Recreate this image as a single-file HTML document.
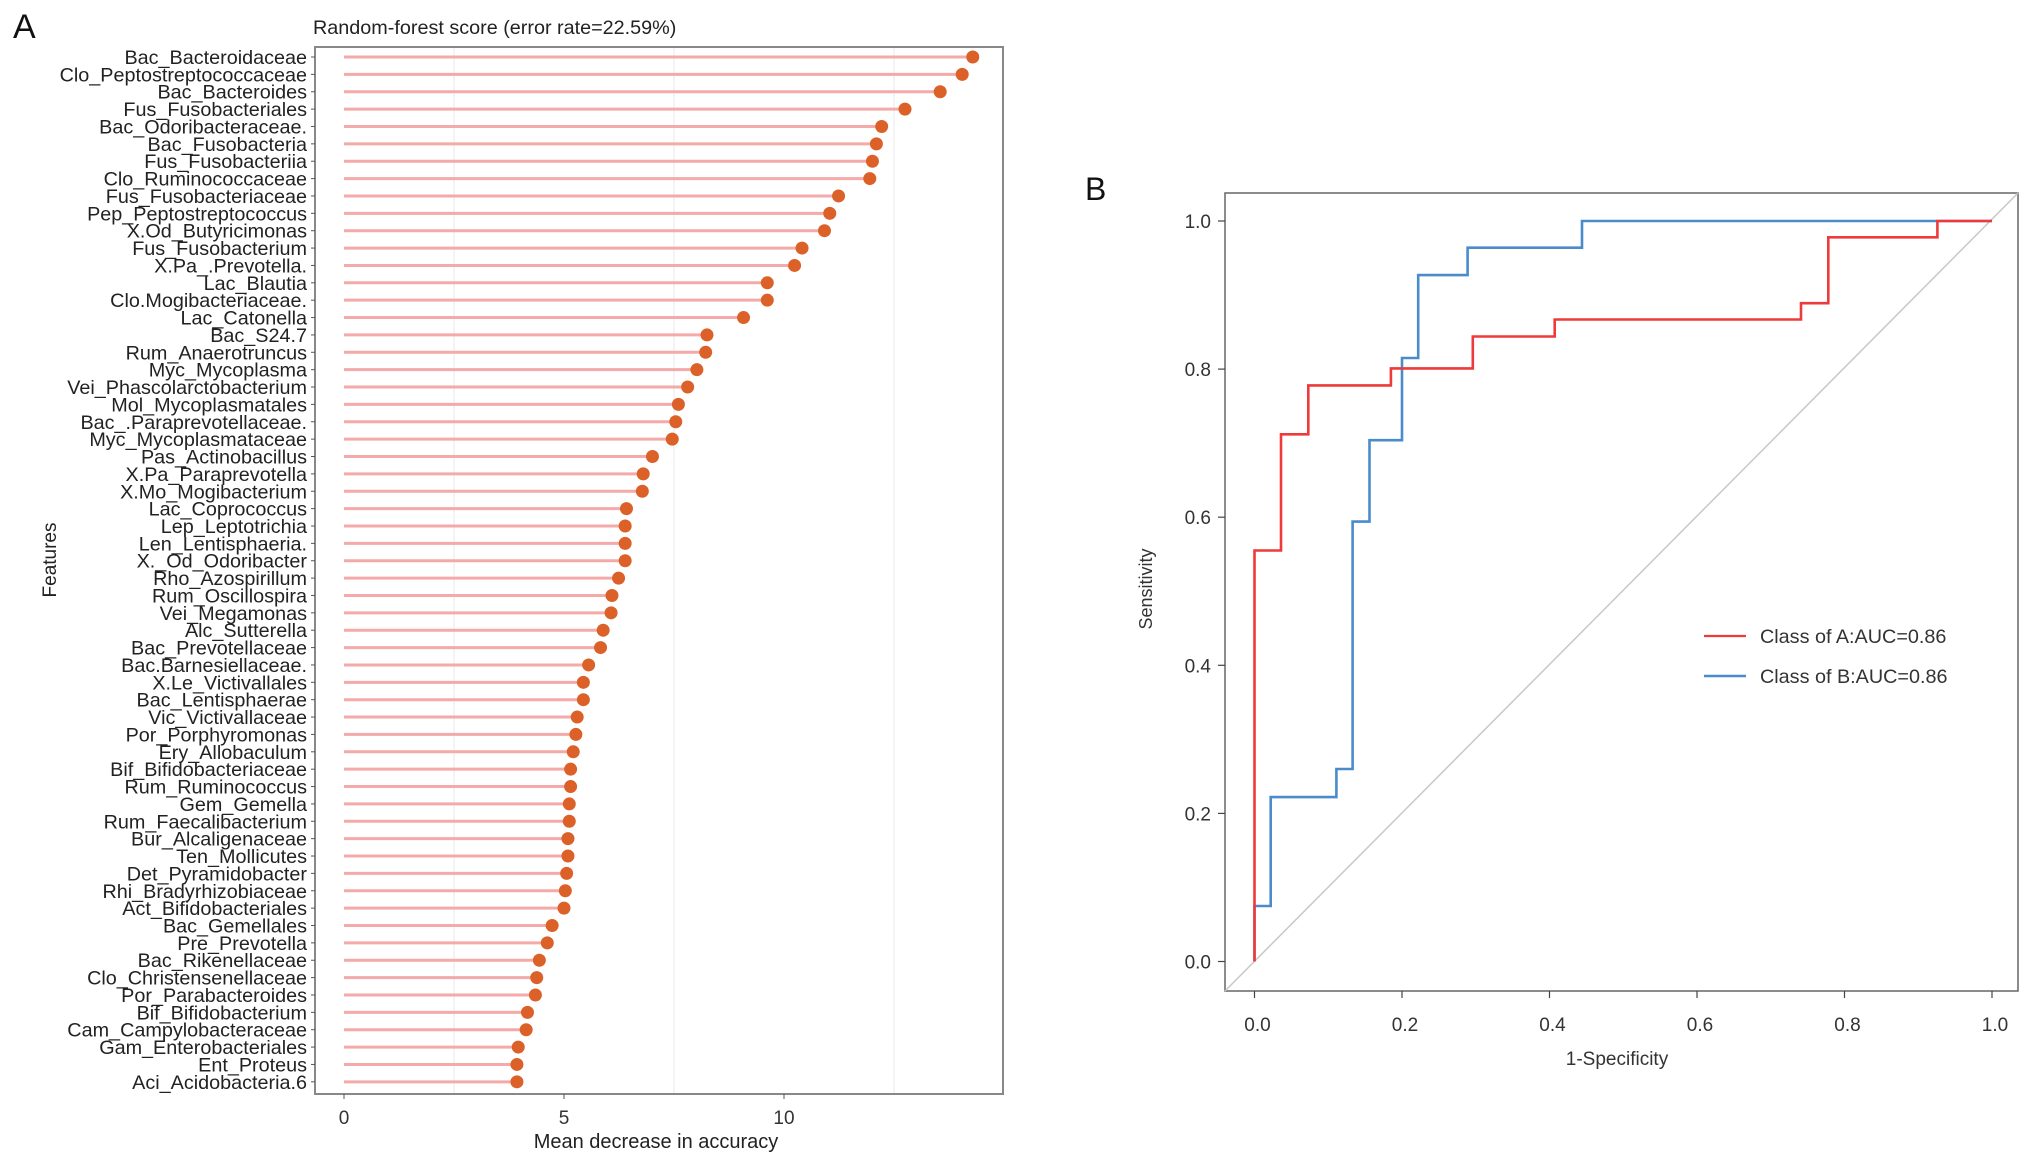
<!DOCTYPE html>
<html><head><meta charset="utf-8"><style>
html,body{margin:0;padding:0;background:#fff;}
svg{display:block;font-family:"Liberation Sans",sans-serif;}
</style></head><body>
<svg id="fig" width="2032" height="1159" viewBox="0 0 2032 1159"></svg>
<script>
const features = ["Bac_Bacteroidaceae","Clo_Peptostreptococcaceae","Bac_Bacteroides","Fus_Fusobacteriales","Bac_Odoribacteraceae.","Bac_Fusobacteria","Fus_Fusobacteriia","Clo_Ruminococcaceae","Fus_Fusobacteriaceae","Pep_Peptostreptococcus","X.Od_Butyricimonas","Fus_Fusobacterium","X.Pa_.Prevotella.","Lac_Blautia","Clo.Mogibacteriaceae.","Lac_Catonella","Bac_S24.7","Rum_Anaerotruncus","Myc_Mycoplasma","Vei_Phascolarctobacterium","Mol_Mycoplasmatales","Bac_.Paraprevotellaceae.","Myc_Mycoplasmataceae","Pas_Actinobacillus","X.Pa_Paraprevotella","X.Mo_Mogibacterium","Lac_Coprococcus","Lep_Leptotrichia","Len_Lentisphaeria.","X._Od_Odoribacter","Rho_Azospirillum","Rum_Oscillospira","Vei_Megamonas","Alc_Sutterella","Bac_Prevotellaceae","Bac.Barnesiellaceae.","X.Le_Victivallales","Bac_Lentisphaerae","Vic_Victivallaceae","Por_Porphyromonas","Ery_Allobaculum","Bif_Bifidobacteriaceae","Rum_Ruminococcus","Gem_Gemella","Rum_Faecalibacterium","Bur_Alcaligenaceae","Ten_Mollicutes","Det_Pyramidobacter","Rhi_Bradyrhizobiaceae","Act_Bifidobacteriales","Bac_Gemellales","Pre_Prevotella","Bac_Rikenellaceae","Clo_Christensenellaceae","Por_Parabacteroides","Bif_Bifidobacterium","Cam_Campylobacteraceae","Gam_Enterobacteriales","Ent_Proteus","Aci_Acidobacteria.6"];
const importance = [14.29,14.05,13.55,12.75,12.22,12.10,12.01,11.95,11.24,11.04,10.92,10.41,10.24,9.62,9.62,9.08,8.25,8.22,8.02,7.81,7.60,7.54,7.46,7.01,6.80,6.78,6.42,6.39,6.39,6.39,6.24,6.09,6.07,5.89,5.83,5.56,5.44,5.44,5.30,5.27,5.21,5.15,5.15,5.12,5.12,5.09,5.09,5.06,5.03,5.00,4.73,4.62,4.44,4.38,4.35,4.17,4.14,3.96,3.93,3.93];
const xTicksA = [0,5,10];
const xGridA = [2.5,7.5,12.5];
const fprA = [0,0,0,0.036,0.036,0.073,0.073,0.185,0.185,0.296,0.296,0.407,0.407,0.741,0.741,0.778,0.778,0.926,0.926,1.0];
const tprA = [0,0.075,0.555,0.555,0.712,0.712,0.778,0.778,0.801,0.801,0.844,0.844,0.867,0.867,0.889,0.889,0.978,0.978,1.0,1.0];
const fprB = [0,0,0.022,0.022,0.111,0.111,0.133,0.133,0.156,0.156,0.2,0.2,0.222,0.222,0.289,0.289,0.444,0.444,1.0];
const tprB = [0,0.075,0.075,0.222,0.222,0.26,0.26,0.594,0.594,0.704,0.704,0.815,0.815,0.927,0.927,0.964,0.964,1.0,1.0];
const ticksB = [0,0.2,0.4,0.6,0.8,1.0];
const tickLabelsB = ["0.0","0.2","0.4","0.6","0.8","1.0"];

const NS="http://www.w3.org/2000/svg";
const svg=document.getElementById('fig');
function mk(tag,attrs,parent,text){const e=document.createElementNS(NS,tag);for(const k in attrs)e.setAttribute(k,attrs[k]);if(text!==undefined)e.textContent=text;(parent||svg).appendChild(e);return e;}

// ---- Panel A ----
const A={left:315,right:1003,top:47,bottom:1094,x0:344,ppu:44,y0:57,step:17.37};
const xA=v=>A.x0+v*A.ppu;
const yA=i=>A.y0+i*A.step;
let t=mk('text',{x:13,y:38,'font-size':34,fill:'#111'},svg,'A');

t=mk('text',{x:313,y:34,'font-size':19.8,fill:'#222'},svg,'Random-forest score (error rate=22.59%)');

xGridA.forEach(g=>{const l=mk('line',{x1:xA(g),x2:xA(g),y1:A.top,y2:A.bottom,stroke:'#ececec','stroke-width':1.2});
});
let box=mk('rect',{x:A.left,y:A.top,width:A.right-A.left,height:A.bottom-A.top,fill:'none',stroke:'#888','stroke-width':2});

features.forEach((f,i)=>{
  const y=yA(i);
  const l=mk('line',{x1:xA(0),x2:xA(importance[i]),y1:y,y2:y,stroke:'#f3aaa8','stroke-width':3});
  
  const c=mk('circle',{cx:xA(importance[i]),cy:y,r:6.5,fill:'#dc6128'});
  
  const tk=mk('line',{x1:A.left-4,x2:A.left,y1:y,y2:y,stroke:'#555','stroke-width':1});
  
  const lb=mk('text',{x:0,y:0,'font-size':19.8,fill:'#222','text-anchor':'end',transform:`translate(${A.left-8},${y+7}) scale(1,1)`},svg,f);
  
});
xTicksA.forEach(v=>{
  const tk=mk('line',{x1:xA(v),x2:xA(v),y1:A.bottom,y2:A.bottom+5,stroke:'#555','stroke-width':1});
  
  const lb=mk('text',{x:xA(v),y:1124,'font-size':19,fill:'#333','text-anchor':'middle'},svg,String(v));
  
});
t=mk('text',{x:656,y:1148,'font-size':20,fill:'#222','text-anchor':'middle'},svg,'Mean decrease in accuracy');

t=mk('text',{x:0,y:0,'font-size':19,fill:'#222','text-anchor':'middle',transform:'translate(56,560) rotate(-90)'},svg,'Features');


// ---- Panel B ----
const B={left:1225,right:2018,top:193,bottom:991,x0:1254.5,x1:1992,y0:961.5,y1:221};
const xB=v=>B.x0+v*(B.x1-B.x0);
const yB=v=>B.y0-v*(B.y0-B.y1);
t=mk('text',{x:1085,y:200,'font-size':32,fill:'#111'},svg,'B');

box=mk('rect',{x:B.left,y:B.top,width:B.right-B.left,height:B.bottom-B.top,fill:'none',stroke:'#666','stroke-width':1.5});

let diag=mk('line',{x1:B.left,y1:B.bottom,x2:B.right,y2:B.top,stroke:'#c8c8c8','stroke-width':1.5});

ticksB.forEach((v,i)=>{
  let tk=mk('line',{x1:xB(v),x2:xB(v),y1:B.bottom,y2:B.bottom+7,stroke:'#444','stroke-width':1.2});
  
  let lb=mk('text',{x:xB(v)+3,y:1031,'font-size':19,fill:'#333','text-anchor':'middle'},svg,tickLabelsB[i]);
  
  tk=mk('line',{x1:B.left-7,x2:B.left,y1:yB(v),y2:yB(v),stroke:'#444','stroke-width':1.2});
  
  lb=mk('text',{x:1211,y:yB(v)+7,'font-size':19,fill:'#333','text-anchor':'end'},svg,tickLabelsB[i]);
  
});
function curve(fx,ty,color,name){
  const d=fx.map((v,i)=>(i?'L':'M')+xB(v).toFixed(1)+','+yB(ty[i]).toFixed(1)).join(' ');
  const p=mk('path',{d:d,fill:'none',stroke:color,'stroke-width':2.6});
  
}
curve(fprB,tprB,'#4a8ccb','roc-curve-class-b');
curve(fprA,tprA,'#ee3a3a','roc-curve-class-a');
t=mk('text',{x:1617,y:1065,'font-size':19,fill:'#333','text-anchor':'middle'},svg,'1-Specificity');

t=mk('text',{x:0,y:0,'font-size':18,fill:'#333','text-anchor':'middle',transform:'translate(1152,589) rotate(-90)'},svg,'Sensitivity');

let g=mk('g',{});
let ll=mk('line',{x1:1704,x2:1746,y1:636,y2:636,stroke:'#ee3a3a','stroke-width':2.2},g);

t=mk('text',{x:1760,y:643,'font-size':19.8,fill:'#333'},g,'Class of A:AUC=0.86');

ll=mk('line',{x1:1704,x2:1746,y1:676,y2:676,stroke:'#4a8ccb','stroke-width':2.6},g);

t=mk('text',{x:1760,y:683,'font-size':19.8,fill:'#333'},g,'Class of B:AUC=0.86');

</script>
</body></html>
